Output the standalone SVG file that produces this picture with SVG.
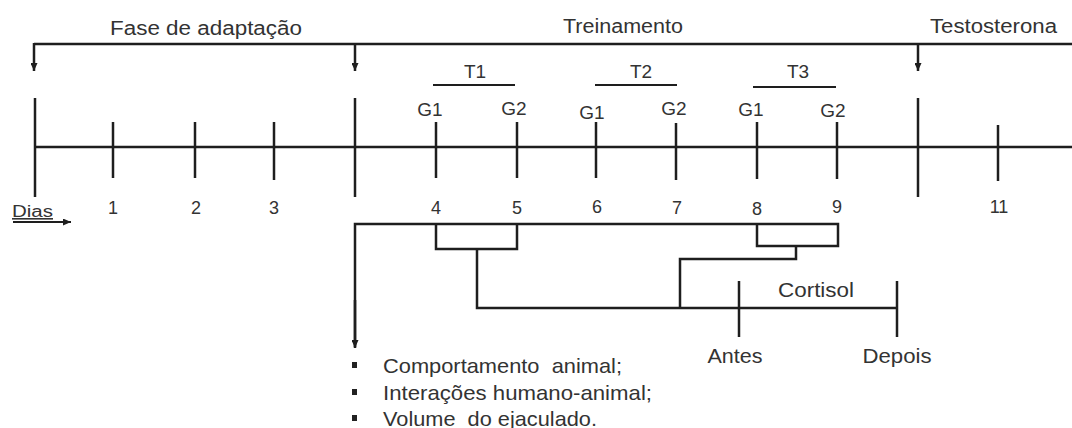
<svg xmlns="http://www.w3.org/2000/svg" width="1072" height="428" viewBox="0 0 1072 428">
<defs>
<style>
.ln{stroke:#1e1e1e;stroke-width:2.5;fill:none;stroke-linecap:butt}
.thin{stroke:#1e1e1e;stroke-width:2;fill:none}
.tx{font-family:"Liberation Sans",Arial,sans-serif;fill:#333}
.h{font-size:20px}
.g{font-size:19px;text-anchor:middle}
.d{font-size:18px;text-anchor:middle}
.b{font-size:21px}
</style>
<marker id="ah" viewBox="0 0 8 7" refX="8" refY="3.5" markerWidth="8" markerHeight="7" markerUnits="userSpaceOnUse" orient="auto">
<path d="M0,0 L8,3.5 L0,7 z" fill="#1e1e1e"/>
</marker>
</defs>
<rect width="1072" height="428" fill="#fff"/>

<g id="connectors">
<line class="ln" x1="34" y1="44" x2="1072" y2="44"/>
<line class="ln" x1="34" y1="43" x2="34" y2="71" marker-end="url(#ah)"/>
<line class="ln" x1="355" y1="43" x2="355" y2="71" marker-end="url(#ah)"/>
<line class="ln" x1="918" y1="43" x2="918" y2="71" marker-end="url(#ah)"/>
<polyline class="ln" points="355,347 355,224 838,224 838,246 757,246 757,224"/>
<polyline class="ln" points="436,224 436,249 517,249 517,224"/>
<polyline class="ln" points="477,249 477,308 897,308"/>
<polyline class="ln" points="796,246 796,259 680,259 680,308"/>
<line class="ln" x1="355" y1="300" x2="355" y2="348" marker-end="url(#ah)"/>
<line class="thin" x1="13" y1="222" x2="71" y2="222" marker-end="url(#ah)"/>
</g>

<g id="timeline">
<line class="ln" x1="34" y1="147" x2="1072" y2="147"/>
<line class="ln" x1="35" y1="98" x2="35" y2="197"/>
<line class="ln" x1="355" y1="98" x2="355" y2="197"/>
<line class="ln" x1="918" y1="98" x2="918" y2="197"/>
<line class="ln" x1="113" y1="122" x2="113" y2="178"/>
<line class="ln" x1="195" y1="122" x2="195" y2="178"/>
<line class="ln" x1="274" y1="122" x2="274" y2="180"/>
<line class="ln" x1="436" y1="122" x2="436" y2="178"/>
<line class="ln" x1="517" y1="122" x2="517" y2="178"/>
<line class="ln" x1="596" y1="122" x2="596" y2="178"/>
<line class="ln" x1="676" y1="123" x2="676" y2="180"/>
<line class="ln" x1="757" y1="122" x2="757" y2="179"/>
<line class="ln" x1="837" y1="122" x2="837" y2="179"/>
<line class="ln" x1="998" y1="125" x2="998" y2="181"/>
</g>

<g id="headings">
<text class="tx h" x="110" y="35" textLength="192" lengthAdjust="spacingAndGlyphs">Fase de adaptação</text>
<text class="tx h" x="563" y="33" textLength="120" lengthAdjust="spacingAndGlyphs">Treinamento</text>
<text class="tx h" x="930" y="33" textLength="127" lengthAdjust="spacingAndGlyphs">Testosterona</text>
</g>

<g id="trials">
<line class="thin" x1="433" y1="85" x2="515" y2="85"/>
<line class="thin" x1="595" y1="85" x2="677" y2="85"/>
<line class="thin" x1="753" y1="87" x2="836" y2="87"/>
<text class="tx g" x="475" y="78">T1</text>
<text class="tx g" x="641" y="78">T2</text>
<text class="tx g" x="798" y="78">T3</text>
<text class="tx g" x="430" y="116">G1</text>
<text class="tx g" x="514" y="115">G2</text>
<text class="tx g" x="592" y="119">G1</text>
<text class="tx g" x="674" y="115">G2</text>
<text class="tx g" x="751" y="116">G1</text>
<text class="tx g" x="833" y="117">G2</text>
</g>

<g id="days">
<text class="tx" x="12" y="217" font-size="16" text-decoration="underline" textLength="41" lengthAdjust="spacingAndGlyphs">Dias</text>
<text class="tx d" x="113" y="214">1</text>
<text class="tx d" x="196" y="214">2</text>
<text class="tx d" x="274" y="214">3</text>
<text class="tx d" x="436" y="214">4</text>
<text class="tx d" x="517" y="214">5</text>
<text class="tx d" x="597" y="213">6</text>
<text class="tx d" x="677" y="214">7</text>
<text class="tx d" x="757" y="215">8</text>
<text class="tx d" x="837" y="213">9</text>
<text class="tx d" x="999" y="213">11</text>
</g>

<g id="cortisol">
<line class="ln" x1="739" y1="281" x2="739" y2="337"/>
<line class="ln" x1="897" y1="281" x2="897" y2="337"/>
<text class="tx b" x="816" y="297" text-anchor="middle" textLength="76" lengthAdjust="spacingAndGlyphs">Cortisol</text>
<text class="tx b" x="735" y="363" text-anchor="middle" textLength="55" lengthAdjust="spacingAndGlyphs">Antes</text>
<text class="tx b" x="897" y="363" text-anchor="middle" textLength="69" lengthAdjust="spacingAndGlyphs">Depois</text>
</g>

<g id="measures">
<rect x="352" y="362" width="5" height="6" fill="#222"/>
<rect x="352" y="389" width="5" height="6" fill="#222"/>
<rect x="352" y="415" width="5" height="6" fill="#222"/>
<text class="tx b" x="383" y="373" textLength="239" lengthAdjust="spacingAndGlyphs" xml:space="preserve">Comportamento  animal;</text>
<text class="tx b" x="383" y="400" textLength="269" lengthAdjust="spacingAndGlyphs">Interações humano-animal;</text>
<text class="tx b" x="383" y="426" textLength="214" lengthAdjust="spacingAndGlyphs" xml:space="preserve">Volume  do ejaculado.</text>
</g>
</svg>
